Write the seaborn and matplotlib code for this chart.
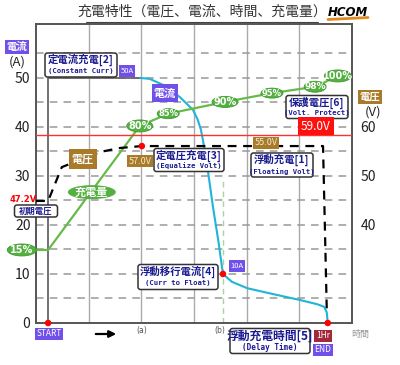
import matplotlib
matplotlib.use("Agg")
from matplotlib import pyplot as plt
from matplotlib.patches import Ellipse, FancyBboxPatch
import seaborn as sns

# current (A) along the time axis (grid units)
lead_x = [0.23, 0.23, 1.98]
lead_a = [0, 50, 50]
curr_x = [1.98, 2.16, 2.45, 2.73, 2.98, 3.07, 3.13, 3.17, 3.27, 3.36, 3.46, 3.55,
          3.72, 4.01, 4.5, 5.01, 5.35, 5.47, 5.52, 5.54]
curr_a = [50, 49.8, 48.4, 46.1, 43.5, 41.5, 39.5, 37.3, 30.6, 23.7, 16.9, 10.0,
          8.4, 7.1, 5.9, 4.7, 3.8, 3.3, 2.2, 0]

# voltage (V), right axis
volt_x = [0, 0.23, 0.49, 1.22, 1.59, 2.01, 5.45, 5.52]
volt_v = [44.9, 44.9, 51.8, 54.9, 55.7, 56.1, 56.1, 23.0]
protect_v = 58.4

# state of charge, drawn on the current scale
soc_x = [0.23, 1.97, 2.51, 3.59, 4.48, 5.30, 5.73]
soc_lvl = [14.9, 40.2, 42.7, 45.1, 46.9, 48.2, 50.4]
soc_pct = ["15%", "80%", "85%", "90%", "95%", "98%", "100%"]

dot_x = [0.23, 3.55, 5.54]
dot_a = [0, 10.0, 0]

left_ticks = [0, 10, 20, 30, 40, 50]
right_ticks = [40, 50, 60]

NAVY = "#1a1a90"
PURPLE = "#7050e8"
BROWN = "#a87a2a"
GREEN = "#66bb48"
CYAN = "#20b4d6"

sns.set_style("white")
plt.rcParams['font.family'] = ['Noto Sans CJK JP', 'DejaVu Sans']

fig = plt.figure(figsize=(4, 3.65), dpi=100)
ax = fig.add_axes([36 / 400, 42 / 365, 316 / 400, 299 / 365])
ax.set_xlim(0, 6)
ax.set_ylim(0, 61)

# grid
for gx in range(1, 6):
    ax.axvline(gx, color="#aaaaaa", lw=1, zorder=1)
for gy in range(5, 60, 5):
    ax.axhline(gy, color="#999999", lw=1.1, ls=(0, (5, 4)), zorder=1)
for s in ax.spines.values():
    s.set_color("#555555")
    s.set_linewidth(1.4)

ax.set_xticks([])
ax.set_yticks(left_ticks)
ax.tick_params(axis="y", length=0, pad=4, labelsize=10, colors="#222222")

ax2 = ax.twinx()
ax2.set_ylim(20, 81)
ax2.set_yticks(right_ticks)
ax2.tick_params(axis="y", length=0, pad=6, labelsize=10, colors="#222222")
for s in ax2.spines.values():
    s.set_visible(False)

ax2.axhline(protect_v, color="#ff3030", lw=1, zorder=2)

# lines
ax.plot(lead_x, lead_a, color="#666666", lw=1.3, zorder=3)
sns.lineplot(x=curr_x, y=curr_a, ax=ax, color=CYAN, lw=1.5, sort=False,
             estimator=None, zorder=3)
ax.plot([3.55, 3.55], [0, 29.8], color="#a8d4a0", lw=1, ls=(0, (4, 3)), zorder=2)
sns.lineplot(x=volt_x, y=volt_v, ax=ax2, color="black", lw=1.6, sort=False,
             estimator=None, zorder=3, clip_on=False)
ax2.lines[-1].set_dashes([4, 3])
sns.lineplot(x=[-0.27] + soc_x, y=[soc_lvl[0]] + soc_lvl, ax=ax, color=GREEN,
             lw=1.6, sort=False, estimator=None, zorder=3, clip_on=False)

sns.scatterplot(x=dot_x, y=dot_a, ax=ax, color="red", s=22, zorder=6,
                clip_on=False, edgecolor="none")
ax2.scatter([volt_x[5]], [volt_v[5]], color="red", s=22, zorder=6, edgecolor="none")

# charge labels (ellipses)
sizes = [(29, 12), (26, 12), (22, 10), (26, 11), (22, 10), (22, 11), (27, 12)]
offs = [-0.5, 0, 0, 0, 0, 0, 0]
fss = [7, 7, 6, 7, 6, 6.5, 7]
for x, y, lab, (w, h), o, f in zip(soc_x, soc_lvl, soc_pct, sizes, offs, fss):
    e = Ellipse((x + o, y), w / 52.67, h / 4.9, fc="#55b042", ec="#3d9a2c",
                lw=0.6, zorder=7, clip_on=False)
    ax.add_patch(e)
    ax.text(x + o, y, lab, ha="center", va="center", color="white",
            fontsize=f, fontweight="bold", zorder=8, family="DejaVu Sans")
e = Ellipse((1.06, 26.7), 48 / 52.67, 14 / 4.9, fc="#55b042", ec="none", zorder=7)
ax.add_patch(e)
ax.text(1.06, 26.7, "充電量", ha="center", va="center", color="white",
        fontsize=8, fontweight="bold", zorder=8)

T = fig.dpi_scale_trans


def P(x, y):
    return x / 100, (365 - y) / 100


def tag(cx, cy, s, fc, fs, tc="white", bold=False, pad=0.2):
    fig.text(*P(cx, cy), s, transform=T, ha="center", va="center", color=tc,
             fontsize=fs, fontweight="bold" if bold else "normal", zorder=10,
             bbox=dict(boxstyle=f"square,pad={pad}", fc=fc, ec="none"))


def box(cx, cy, w, h, l1, l2=None, fs1=7.5, fs2=5.2):
    x0, y0 = P(cx - w / 2, cy + h / 2)
    p = FancyBboxPatch((x0, y0), w / 100, h / 100,
                       boxstyle="round,pad=0,rounding_size=0.025", transform=T,
                       fc="white", ec="#333333", lw=1.1, zorder=9)
    fig.add_artist(p)
    if l2 is None:
        fig.text(*P(cx, cy), l1, transform=T, ha="center", va="center",
                 fontsize=fs1, color=NAVY, fontweight="bold", zorder=10)
        return
    fig.text(*P(cx, cy - h * 0.2), l1, transform=T, ha="center", va="center",
             fontsize=fs1, color=NAVY, fontweight="bold", zorder=10)
    fig.text(*P(cx, cy + h * 0.26), l2, transform=T, ha="center", va="center",
             fontsize=fs2, color=NAVY, fontweight="bold", zorder=10,
             family="DejaVu Sans Mono")


# title
fig.text(*P(202, 12), "充電特性（電圧、電流、時間、充電量）", transform=T,
         ha="center", va="center", fontsize=10, color="#333333")
fig.add_artist(plt.Line2D([0.86, 3.18], [(365 - 22) / 100] * 2, transform=T,
                          color="#444444", lw=0.8))
fig.text(*P(348, 12), "HCOM", transform=T, ha="center", va="center", fontsize=8.5,
         fontweight="bold", style="italic", family="DejaVu Sans", color="black")
fig.add_artist(plt.Line2D([3.28, 3.68], [(365 - 19.5) / 100, (365 - 17.5) / 100],
                          transform=T, color="#e08a1e", lw=2))

# axis captions
tag(17, 47, "電流", PURPLE, 7.5, bold=True)
fig.text(*P(17, 62), "(A)", transform=T, ha="center", va="center", fontsize=9.5)
tag(370, 97, "電圧", BROWN, 7.5, bold=True)
fig.text(*P(373, 112), "(V)", transform=T, ha="center", va="center", fontsize=9.5)

# callouts
box(81, 65, 72, 24, "定電流充電[2]", "(Constant Curr)")
tag(127, 71, "50A", PURPLE, 5.5)
tag(165, 93, "電流", PURPLE, 8, bold=True)
tag(83, 159, "電圧", BROWN, 8, bold=True, pad=0.3)
tag(140, 161, "57.0V", BROWN, 6.5, tc="#f5ecd0")
tag(266, 143, "55.0V", BROWN, 6.5, tc="#f5ecd0")
tag(316, 126, "59.0V", "#ff1010", 8.5, pad=0.25)
box(189, 160, 70, 23, "定電圧充電[3]", "(Equalize Volt)")
box(282, 165, 62, 24, "浮動充電[1]", "(Floating Volt)")
box(317, 107, 62, 23, "保護電圧[6]", "(Volt. Protect)")
fig.text(*P(23, 199), "47.2V", transform=T, ha="center", va="center",
         fontsize=6, color="red", fontweight="bold", family="DejaVu Sans")
box(36, 211, 43, 12, "初期電圧", fs1=6)
box(178, 277, 80, 25, "浮動移行電流[4]", "(Curr to Float)")
tag(237, 266, "10A", PURPLE, 5.5)
box(270, 341, 80, 25, "浮動充電時間[5]", "(Delay Time)", fs1=8.5, fs2=5.5)
tag(323, 336, "1Hr", "#a3283c", 6)
tag(323, 350, "END", PURPLE, 6)
fig.text(*P(360, 334), "時間", transform=T, ha="center", va="center",
         fontsize=6.5, color="#999999")
tag(49, 334, "START", PURPLE, 6)
fig.add_artist(matplotlib.patches.FancyArrowPatch(
    P(93, 334), P(119, 334), transform=T, arrowstyle="-|>,head_length=4,head_width=2",
    color="black", lw=1.6, mutation_scale=1))
fig.text(*P(142, 330), "(a)", transform=T, ha="center", va="center",
         fontsize=5.5, color="#555555", family="DejaVu Sans")
fig.text(*P(220, 331), "(b)", transform=T, ha="center", va="center",
         fontsize=5.5, color="#555555", family="DejaVu Sans")

fig.savefig("out.png", dpi=100, facecolor="white")
